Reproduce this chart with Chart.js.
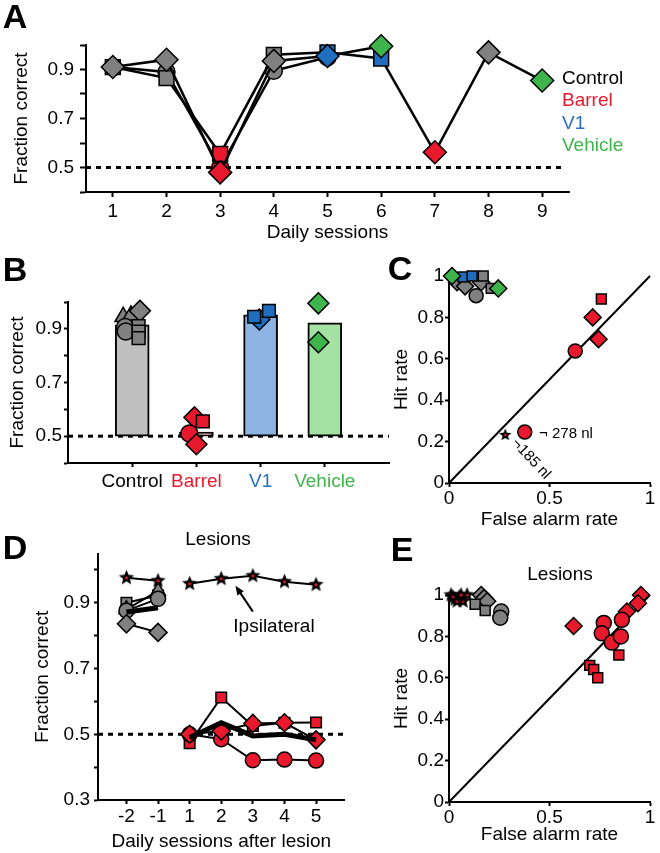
<!DOCTYPE html>
<html>
<head>
<meta charset="utf-8">
<title>Fraction correct</title>
<script src="https://cdn.jsdelivr.net/npm/chart.js@4.4.1/dist/chart.umd.min.js"></script>
<style>
  html, body { margin: 0; padding: 0; background: #fff; }
  body { position: relative; width: 660px; height: 853px; overflow: hidden;
         font-family: "Liberation Sans", Arial, Helvetica, sans-serif; color: #000; }
  canvas { position: absolute; }
  .txt { position: absolute; white-space: nowrap; line-height: 1; transform: translate(-50%, -50%); font-size: 19px; }
  .letter { font-size: 34px; font-weight: bold; }
  .leg { position: absolute; white-space: nowrap; font-size: 19px; line-height: 1; transform: translateY(-50%); }
</style>
</head>
<body>
<canvas id="chartA"></canvas>
<canvas id="chartB"></canvas>
<canvas id="chartC"></canvas>
<canvas id="chartD"></canvas>
<canvas id="chartE"></canvas>

<div class="txt letter" style="left:15px;top:16px">A</div>
<div class="txt letter" style="left:15px;top:269px">B</div>
<div class="txt letter" style="left:400px;top:268px">C</div>
<div class="txt letter" style="left:15px;top:547px">D</div>
<div class="txt letter" style="left:402px;top:549px">E</div>

<div class="leg" style="left:562px;top:77px;color:#000">Control</div>
<div class="leg" style="left:562px;top:99px;color:#E8192C">Barrel</div>
<div class="leg" style="left:562px;top:122px;color:#2A6EBB">V1</div>
<div class="leg" style="left:562px;top:144px;color:#3DB54A">Vehicle</div>

<div class="txt" style="left:218px;top:538px">Lesions</div>
<div class="txt" style="left:560px;top:573px">Lesions</div>
<div class="txt" style="left:274px;top:625px">Ipsilateral</div>
<div class="txt" style="left:566px;top:432px;font-size:15px">¬ 278 nl</div>
<div class="txt" style="left:532px;top:458px;font-size:15px;transform:translate(-50%,-50%) rotate(47deg)">¬185 nl</div>

<script>
// ---------- data ----------
const groups = ['Control', 'Barrel', 'V1', 'Vehicle'];

// A: three example rats over daily sessions
const sessions = [1, 2, 3, 4, 5, 6, 7, 8, 9];
const ratDiamond = [0.91, 0.94, 0.48, 0.935, 0.955, 0.995];
const ratDiamondGrp = ['Control', 'Control', 'Barrel', 'Control', 'V1', 'Vehicle'];
const ratSquare = [0.91, 0.865, 0.555, 0.96, 0.97, 0.945, 0.562, 0.97, 0.855];
const ratSquareGrp = ['Control', 'Control', 'Barrel', 'Control', 'V1', 'V1', 'Barrel', 'Control', 'Vehicle'];
const ratSquareShape = ['rect', 'rect', 'rect', 'rect', 'rect', 'rect', 'rectRot', 'rectRot', 'rectRot'];
const ratCircle = [0.91, 0.89, 0.50, 0.895, 0.95];
const ratCircleGrp = ['Control', 'Control', 'Barrel', 'Control', 'V1'];

// B: group means and individual rats
const meanB = [0.915, 0.515, 0.952, 0.922];
const ratGrpB = [0, 0, 0, 0, 0, 0, 0, 0, 1, 1, 1, 1, 2, 2, 2, 3, 3];
const ratValB = [0.945, 0.95, 0.967, 0.907, 0.89, 0.91, 0.89, 0.865, 0.57, 0.555, 0.51, 0.47, 0.935, 0.945, 0.967, 0.995, 0.85];
const ratShapeB = ['triangle', 'triangle', 'rectRot', 'circle', 'circle', 'rect', 'rect', 'rect',
                   'rectRot', 'rect', 'circle', 'rectRot', 'rectRot', 'rect', 'rect', 'rectRot', 'rectRot'];
const ratJitterB = [-0.14, -0.02, 0.12, -0.11, -0.1, 0.1, 0.1, 0.1, -0.03, 0.1, -0.11, 0, -0.02, -0.1, 0.13, -0.1, -0.1];

// C: hit rate vs false alarm rate
const faC  = [0.04, 0.08, 0.16, 0.17, 0.21, 0.135, 0.07, 0.115, 0.015, 0.245, 0.758, 0.715, 0.744, 0.628, 0.377, 0.28];
const hitC = [0.97, 0.95, 0.97, 1.0, 0.94, 0.905, 0.995, 1.0, 1.0, 0.94, 0.889, 0.80, 0.695, 0.638, 0.246, 0.232];
const grpC = ['Control', 'Control', 'Control', 'Control', 'Control', 'Control', 'V1', 'V1', 'Vehicle', 'Vehicle',
              'Barrel', 'Barrel', 'Barrel', 'Barrel', 'Barrel', 'Barrel'];
const shapeC = ['rectRot', 'rectRot', 'rectRot', 'rect', 'rect', 'circle', 'rect', 'rect', 'rectRot', 'rectRot',
                'rect', 'rectRot', 'rectRot', 'circle', 'circle', 'star'];

// D: lesions, sessions before and after
const tickLabelsD = ['-2', '-1', '1', '2', '3', '4', '5'];
const preIdx = [0, 1];
const postIdx = [2, 3, 4, 5, 6];
const ipsiPre = [0.976, 0.967];
const ipsiPost = [0.958, 0.973, 0.982, 0.964, 0.955];
const preSquare = [0.90, 0.922];
const preTriangle = [0.88, 0.936];
const preCircle = [0.876, 0.912];
const preDiamond = [0.836, 0.81];
const preMean = [0.872, 0.885];
const postSquare = [0.473, 0.612, 0.525, 0.535, 0.536];
const postDiamond = [0.50, 0.51, 0.533, 0.535, 0.483];
const postCircle = [0.50, 0.485, 0.421, 0.423, 0.42];
const postMean = [0.49, 0.535, 0.495, 0.50, 0.483];

// E: lesions, hit rate vs false alarm rate
const faE  = [0.01, 0.03, 0.05, 0.07, 0.09, 0.02, 0.04, 0.06,
              0.16, 0.175, 0.19, 0.13, 0.18, 0.26, 0.255,
              0.62, 0.955, 0.94, 0.885, 0.77, 0.76, 0.81, 0.855, 0.86, 0.845, 0.70, 0.72, 0.74];
const hitE = [1.0, 0.98, 0.99, 0.97, 1.0, 0.99, 0.97, 1.0,
              1.0, 0.985, 0.97, 0.955, 0.925, 0.92, 0.89,
              0.85, 1.0, 0.96, 0.92, 0.865, 0.815, 0.77, 0.80, 0.88, 0.71, 0.66, 0.64, 0.60];
const grpE = ['Ipsi', 'Ipsi', 'Ipsi', 'Ipsi', 'Ipsi', 'Ipsi', 'Ipsi', 'Ipsi',
              'Control', 'Control', 'Control', 'Control', 'Control', 'Control', 'Control',
              'Barrel', 'Barrel', 'Barrel', 'Barrel', 'Barrel', 'Barrel', 'Barrel', 'Barrel', 'Barrel',
              'Barrel', 'Barrel', 'Barrel', 'Barrel'];
const shapeE = ['star', 'star', 'star', 'star', 'star', 'star', 'star', 'star',
                'rectRot', 'rectRot', 'rectRot', 'rect', 'rect', 'circle', 'circle',
                'rectRot', 'rectRot', 'rectRot', 'rectRot', 'circle', 'circle', 'circle', 'circle', 'circle',
                'rect', 'rect', 'rect', 'rect'];

const chance = 0.5;

// ---------- styles ----------
const markColor = { Control: '#808080', Barrel: '#E8192C', V1: '#1F6EC0', Vehicle: '#3DB54A', Ipsi: '#000' };
const barColor = { Control: '#C0C0C0', Barrel: '#F3A5A8', V1: '#8EB4E3', Vehicle: '#A3E2A3' };
const labelColor = { Control: '#000', Barrel: '#E8192C', V1: '#2A6EBB', Vehicle: '#3DB54A' };

Chart.defaults.font.family = '"Liberation Sans", Arial, Helvetica, sans-serif';
Chart.defaults.font.size = 19;
Chart.defaults.color = '#000';

function starMarker(size) {
  const c = document.createElement('canvas');
  c.width = c.height = size;
  const g = c.getContext('2d');
  const m = size / 2, R = size / 2 - 0.5, r = R * 0.45;
  g.beginPath();
  for (let i = 0; i < 10; i++) {
    const a = -Math.PI / 2 + i * Math.PI / 5;
    const rr = i % 2 ? r : R;
    g.lineTo(m + rr * Math.cos(a), m + rr * Math.sin(a));
  }
  g.closePath();
  g.fillStyle = '#000';
  g.fill();
  g.beginPath();
  g.arc(m, m, size * 0.09, 0, Math.PI * 2);
  g.fillStyle = '#E8192C';
  g.fill();
  return c;
}

function fmt(shown) { return v => shown.includes(v) ? String(v) : ''; }

function axis(pos, o) {
  const horiz = pos === 'bottom';
  return {
    type: 'linear', position: pos, min: o.min, max: o.max, offset: false, bounds: 'data',
    grid: { drawOnChartArea: false, tickLength: o.tl, tickWidth: 2, tickColor: '#000', offset: false },
    border: { color: '#000', width: 2 },
    ticks: { padding: o.pad, autoSkip: false, maxRotation: 0, minRotation: 0, color: o.color || '#000', callback: o.fmt },
    title: {
      display: !!o.title, text: o.title || '',
      padding: horiz ? { top: 0, bottom: o.tpad || 0 } : { top: o.tpad || 0, bottom: 0 }
    },
    afterBuildTicks: s => { s.ticks = o.ticks.map(v => ({ value: v })); },
    afterFit: s => {
      if (horiz) { s.height = o.size; s.paddingLeft = 0; s.paddingRight = 0; }
      else { s.width = o.size; s.paddingTop = 0; s.paddingBottom = 0; }
    }
  };
}

function makeChart(id, area, yW, xH, padTop, padRight, datasets, scales, plugins) {
  const cv = document.getElementById(id);
  const left = area.l - yW, top = area.t - padTop;
  const w = area.r - left + padRight, h = area.b + xH - top;
  cv.style.left = left + 'px';
  cv.style.top = top + 'px';
  cv.width = w; cv.height = h;
  cv.style.width = w + 'px'; cv.style.height = h + 'px';
  return new Chart(cv, {
    type: 'scatter',
    data: { datasets },
    options: {
      responsive: false, animation: false, events: [],
      layout: { padding: { top: padTop, right: padRight, left: 0, bottom: 0 } },
      plugins: { legend: { display: false }, tooltip: { enabled: false } },
      scales
    },
    plugins: plugins || []
  });
}

function chanceLine(x0, x1) {
  return {
    data: [{ x: x0, y: chance }, { x: x1, y: chance }],
    showLine: true, borderColor: '#000', borderWidth: 3, borderDash: [5, 5],
    pointRadius: 0, clip: false, order: 10
  };
}

const star14 = starMarker(14), star16 = starMarker(17);

function markers(xs, ys, grps, shapes, sizes, star, extra) {
  return Object.assign({
    data: xs.map((x, i) => ({ x, y: ys[i] })),
    pointStyle: shapes.map(s => s === 'star' ? star : s),
    pointRadius: shapes.map(s => sizes[s] || 0),
    pointBackgroundColor: grps.map(g => markColor[g]),
    pointBorderColor: '#000',
    pointBorderWidth: shapes.map(s => s === 'star' ? 0 : 1.5),
    clip: false
  }, extra || {});
}

// ---------- A ----------
const sizeA = { rect: 10.5, rectRot: 11.5, circle: 8.5 };
function ratLine(vals, grps, shapes) {
  return markers(sessions.slice(0, vals.length), vals, grps, shapes, sizeA, null,
    { showLine: true, borderColor: '#000', borderWidth: 2.5 });
}
makeChart('chartA', { l: 86, t: 45, r: 570, b: 192 }, 86, 56, 20, 12, [
  ratLine(ratDiamond, ratDiamondGrp, ratDiamond.map(() => 'rectRot')),
  ratLine(ratSquare, ratSquareGrp, ratSquareShape),
  ratLine(ratCircle, ratCircleGrp, ratCircle.map(() => 'circle')),
  chanceLine(0.5, 9.4)
], {
  x: axis('bottom', { min: 0.5, max: 9.5, ticks: sessions, fmt: v => String(v), tl: 5, pad: 3,
                      size: 56, title: 'Daily sessions', tpad: 3.6 }),
  y: axis('left', { min: 0.4, max: 1.0, ticks: [0.4, 0.5, 0.6, 0.7, 0.8, 0.9, 1.0], fmt: fmt([0.5, 0.7, 0.9]),
                    tl: 6, pad: 6, size: 86, title: 'Fraction correct', tpad: 10.6 })
});

// ---------- B ----------
const sizeB = { rect: 9, rectRot: 10.5, circle: 8.5, triangle: 9.5 };
const groupPos = groups.map((g, i) => i + 1);
makeChart('chartB', { l: 68, t: 302, r: 393, b: 463 }, 68, 36, 18, 8, [
  markers(ratGrpB.map((g, i) => groupPos[g] + ratJitterB[i]), ratValB, ratGrpB.map(g => groups[g]),
          ratShapeB, sizeB, null, { order: 0 }),
  {
    type: 'bar',
    data: groupPos.map((x, i) => ({ x, y: [chance, meanB[i]] })),
    backgroundColor: groups.map(g => barColor[g]),
    borderColor: '#000', borderWidth: 2, borderSkipped: false, barThickness: 34, order: 5
  },
  chanceLine(0, 5)
], {
  x: axis('bottom', { min: 0, max: 5, ticks: groupPos, fmt: v => groups[v - 1], tl: 4, pad: 3.6, size: 36,
                      color: c => labelColor[groups[c.tick.value - 1]] }),
  y: axis('left', { min: 0.4, max: 1.0, ticks: [0.4, 0.5, 0.6, 0.7, 0.8, 0.9, 1.0], fmt: fmt([0.5, 0.7, 0.9]),
                    tl: 4, pad: 2, size: 68, title: 'Fraction correct', tpad: 6.6 })
});

// ---------- C ----------
const sizeC = { rect: 7, rectRot: 8.5, circle: 7 };
const diagonal = {
  data: [{ x: 0, y: 0 }, { x: 1, y: 1 }], showLine: true, borderColor: '#000', borderWidth: 2,
  pointRadius: 0, clip: false, order: 10
};
const rateTicks = [0, 0.2, 0.4, 0.6, 0.8, 1];
makeChart('chartC', { l: 449, t: 276, r: 656, b: 483 }, 60, 50, 16, 4, [
  markers(faC, hitC, grpC, shapeC, Object.assign({ star: 7 }, sizeC), star14),
  diagonal
], {
  x: axis('bottom', { min: 0, max: 1, ticks: [0, 0.5, 1], fmt: v => String(v), tl: 4, pad: 0, size: 50,
                      title: 'False alarm rate', tpad: 1.6 }),
  y: axis('left', { min: 0, max: 1, ticks: rateTicks, fmt: v => String(v), tl: 4, pad: 1, size: 60,
                    title: 'Hit rate', tpad: 1.6 })
});

// ---------- D ----------
const sizeD = { rect: 7.5, rectRot: 9, circle: 7.5, triangle: 8.5, star: 8 };
function seriesD(idx, vals, grp, shape, width, star) {
  return markers(idx, vals, vals.map(() => grp), vals.map(() => shape), sizeD, star,
    { showLine: true, borderColor: '#000', borderWidth: width });
}
const arrowFrom = { x: 4, y: 0.873 }, arrowTo = { x: 3.45, y: 0.952 };
const arrowPlugin = {
  id: 'ipsiArrow',
  afterDatasetsDraw(chart) {
    const { ctx, scales: { x, y } } = chart;
    const x0 = x.getPixelForValue(arrowFrom.x), y0 = y.getPixelForValue(arrowFrom.y);
    const x1 = x.getPixelForValue(arrowTo.x), y1 = y.getPixelForValue(arrowTo.y);
    const a = Math.atan2(y1 - y0, x1 - x0);
    ctx.save();
    ctx.strokeStyle = '#000'; ctx.fillStyle = '#000'; ctx.lineWidth = 2;
    ctx.beginPath(); ctx.moveTo(x0, y0); ctx.lineTo(x1 - 5 * Math.cos(a), y1 - 5 * Math.sin(a)); ctx.stroke();
    ctx.beginPath();
    ctx.moveTo(x1, y1);
    ctx.lineTo(x1 - 10 * Math.cos(a - 0.4), y1 - 10 * Math.sin(a - 0.4));
    ctx.lineTo(x1 - 10 * Math.cos(a + 0.4), y1 - 10 * Math.sin(a + 0.4));
    ctx.closePath(); ctx.fill();
    ctx.restore();
  }
};
makeChart('chartD', { l: 98, t: 553, r: 345, b: 800 }, 98, 53, 10, 10, [
  seriesD(preIdx, ipsiPre, 'Ipsi', 'star', 2, star16),
  seriesD(postIdx, ipsiPost, 'Ipsi', 'star', 2, star16),
  seriesD(preIdx, preMean, 'Control', 'none', 5),
  seriesD(preIdx, preDiamond, 'Control', 'rectRot', 2),
  seriesD(preIdx, preCircle, 'Control', 'circle', 2),
  seriesD(preIdx, preTriangle, 'Control', 'triangle', 2),
  seriesD(preIdx, preSquare, 'Control', 'rect', 2),
  seriesD(postIdx, postMean, 'Barrel', 'none', 5),
  seriesD(postIdx, postDiamond, 'Barrel', 'rectRot', 2),
  seriesD(postIdx, postCircle, 'Barrel', 'circle', 2),
  seriesD(postIdx, postSquare, 'Barrel', 'rect', 2),
  chanceLine(-0.9, 6.9)
], {
  x: axis('bottom', { min: -0.9, max: 6.9, ticks: [0, 1, 2, 3, 4, 5, 6], fmt: v => tickLabelsD[v], tl: 4, pad: 1.6,
                      size: 53, title: 'Daily sessions after lesion', tpad: 0 }),
  y: axis('left', { min: 0.3, max: 1.05, ticks: [0.3, 0.4, 0.5, 0.6, 0.7, 0.8, 0.9, 1.0], fmt: fmt([0.3, 0.5, 0.7, 0.9]),
                    tl: 4, pad: 4, size: 98, title: 'Fraction correct', tpad: 31.6 })
}, [arrowPlugin]);

// ---------- E ----------
const sizeE = { rect: 7, rectRot: 8.5, circle: 7.5, star: 8 };
makeChart('chartE', { l: 449, t: 595, r: 656, b: 802 }, 60, 46, 12, 4, [
  markers(faE, hitE, grpE, shapeE, sizeE, star16),
  diagonal
], {
  x: axis('bottom', { min: 0, max: 1, ticks: [0, 0.5, 1], fmt: v => String(v), tl: 4, pad: 0, size: 46,
                      title: 'False alarm rate', tpad: 1.6 }),
  y: axis('left', { min: 0, max: 1, ticks: rateTicks, fmt: v => String(v), tl: 4, pad: 1, size: 60,
                    title: 'Hit rate', tpad: 1.6 })
});
</script>
</body>
</html>
